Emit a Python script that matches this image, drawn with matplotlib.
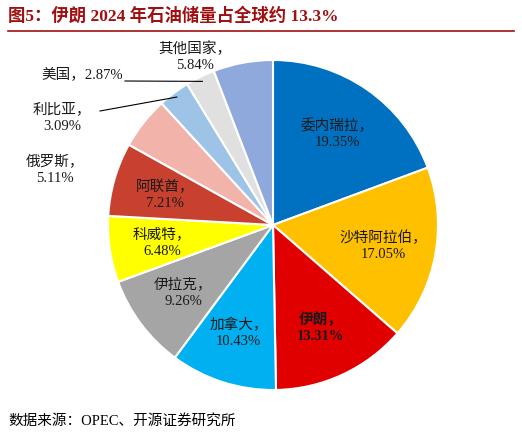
import matplotlib
matplotlib.use("Agg")
import matplotlib.pyplot as plt
import numpy as np

countries = ["委内瑞拉", "沙特阿拉伯", "伊朗", "加拿大", "伊拉克", "科威特", "阿联酋", "俄罗斯", "利比亚", "美国", "其他国家"]
shares = [19.35, 17.05, 13.31, 10.43, 9.26, 6.48, 7.21, 5.11, 3.09, 2.87, 5.84]
colors = ["#0070c0", "#ffc000", "#e00000", "#00b0f0", "#a5a5a5", "#ffff00",
          "#c8412f", "#f2b3aa", "#9dc3e6", "#e0e0e0", "#8fa9dc"]

plt.rcParams['font.family'] = ['Liberation Serif', 'Noto Sans CJK SC']
W, H = 522, 439
fig = plt.figure(figsize=(W/100, H/100), dpi=100)
cx, cy, R = 273, 226, 165
ax = fig.add_axes([(cx-R)/W, (H-cy-R)/H, 2*R/W, 2*R/H])
wedges, _ = ax.pie(shares, colors=colors, startangle=90, counterclock=False,
                   wedgeprops=dict(edgecolor="white", linewidth=1.5), radius=1)
ax.set_xlim(-1, 1); ax.set_ylim(-1, 1); ax.set_aspect('equal')
ax.axis('off')

def P(x, y):
    return ((x-cx)/R, (cy-y)/R)

# inside labels
for i in range(7):
    w = wedges[i]
    ang = np.deg2rad((w.theta1+w.theta2)/2)
    r = 0.68
    ax.text(r*np.cos(ang), r*np.sin(ang), f"{countries[i]}，\n{shares[i]:.2f}%",
            ha='center', va='center', fontsize=10.5, color='#1a1a1a',
            fontweight='bold' if i == 2 else 'normal', linespacing=1.3, clip_on=False)

# outside labels
out = {7: P(55, 170), 8: P(62, 118), 10: P(195, 57)}
for i, (x, y) in out.items():
    ax.text(x, y, f"{countries[i]}，\n{shares[i]:.2f}%", ha='center', va='center',
            fontsize=10.5, color='#1a1a1a', linespacing=1.3, clip_on=False)
ax.text(*P(82, 75), f"{countries[9]}，{shares[9]:.2f}%", ha='center', va='center',
        fontsize=10.5, color='#1a1a1a', clip_on=False)

def edge(i, r=0.97):
    w = wedges[i]; a = np.deg2rad((w.theta1+w.theta2)/2)
    return r*np.cos(a), r*np.sin(a)
for i, start in [(8, P(100, 112)), (9, P(125, 82))]:
    ex, ey = edge(i)
    ax.plot([start[0], ex], [start[1], ey], color='black', lw=0.8, clip_on=False)

fig.text(8/W, 1-16/H, "图5：伊朗 2024 年石油储量占全球约 13.3%", fontsize=12.5,
         fontweight='bold', color='#a01010', va='center', ha='left')
fig.add_artist(plt.Line2D([8/W, 514/W], [1-32/H, 1-32/H], color='#a01010', lw=1.2))
fig.text(8/W, 1-421/H, "数据来源：OPEC、开源证券研究所", fontsize=10.5, va='center', ha='left')
fig.savefig("out.png", dpi=100)
